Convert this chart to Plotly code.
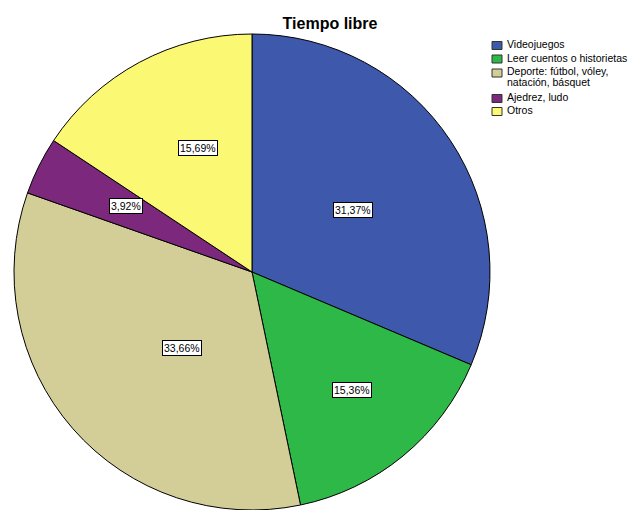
import math
import plotly.graph_objects as go

categories = ["Videojuegos", "Leer cuentos o historietas",
              "Deporte: fútbol, vóley,<br>natación, básquet", "Ajedrez, ludo", "Otros"]
counts = [96, 47, 103, 12, 48]
pct_labels = ["31,37%", "15,36%", "33,66%", "3,92%", "15,69%"]
colors = ["#3E58AC", "#2EB848", "#D3CE97", "#7C287D", "#FBF873"]

# style / layout
label_radius = [0.505, 0.655, 0.5, 0.665, 0.65]  # fraction of pie radius for label boxes
legend_rows_y = [44, 57.5, 71.5, 97, 110]        # px from top, first text line of each entry
legend_line_gap = 11
W, H = 638, 510
FONT = "Liberation Sans, Arial"

# pie geometry (reference center is at y=277, radius 240; clipped by bottom edge)
cx_px, cy_px_ref, R_ref = 252, 277, 240
top_px = 34
R_px = (H - top_px) / 2

fig = go.Figure(go.Pie(
    labels=[c.replace("<br>", " ") for c in categories], values=counts, sort=False,
    direction="clockwise", rotation=0,
    marker=dict(colors=colors, line=dict(color="black", width=1)),
    textinfo="none", hoverinfo="label+percent", showlegend=False,
    domain=dict(x=[(cx_px - R_px) / W, (cx_px + R_px) / W],
                y=[0, 1 - top_px / H]),
))

total = sum(counts)
cum = 0
annotations = []
for v, lab, rf in zip(counts, pct_labels, label_radius):
    mid = (cum + v / 2) / total * 2 * math.pi
    cum += v
    x_px = cx_px + rf * R_ref * math.sin(mid)
    y_px = cy_px_ref - rf * R_ref * math.cos(mid)
    annotations.append(dict(x=x_px / W, y=1 - y_px / H, xref="paper", yref="paper",
                            text=lab, showarrow=False,
                            font=dict(family=FONT, size=10.5, color="black"),
                            bgcolor="white", bordercolor="black", borderwidth=1, borderpad=1))

# manual legend
shapes = []
for cat, col, ly in zip(categories, colors, legend_rows_y):
    sq_c = ly + 1.5
    shapes.append(dict(type="rect", xref="paper", yref="paper",
                       x0=492 / W, x1=502 / W, y0=1 - (sq_c + 4) / H, y1=1 - (sq_c - 4) / H,
                       fillcolor=col, line=dict(color="#333333", width=1)))
    for i, line in enumerate(cat.split("<br>")):
        annotations.append(dict(x=505 / W, y=1 - (ly + i * legend_line_gap) / H,
                                xref="paper", yref="paper",
                                xanchor="left", yanchor="middle", text=line, showarrow=False,
                                font=dict(family=FONT, size=10.5, color="black")))

fig.update_layout(
    width=W, height=H, margin=dict(l=0, r=0, t=0, b=0, autoexpand=False),
    paper_bgcolor="white", plot_bgcolor="white",
    title=dict(text="<b>Tiempo libre</b>", x=330 / W, xanchor="center", y=1 - 23 / H, yanchor="middle",
               font=dict(family=FONT, size=16, color="black")),
    showlegend=False,
    annotations=annotations, shapes=shapes,
)

fig.write_html("out.html", config={"displayModeBar": False},
               post_script="document.body.style.margin='0';document.body.style.overflow='hidden';")
